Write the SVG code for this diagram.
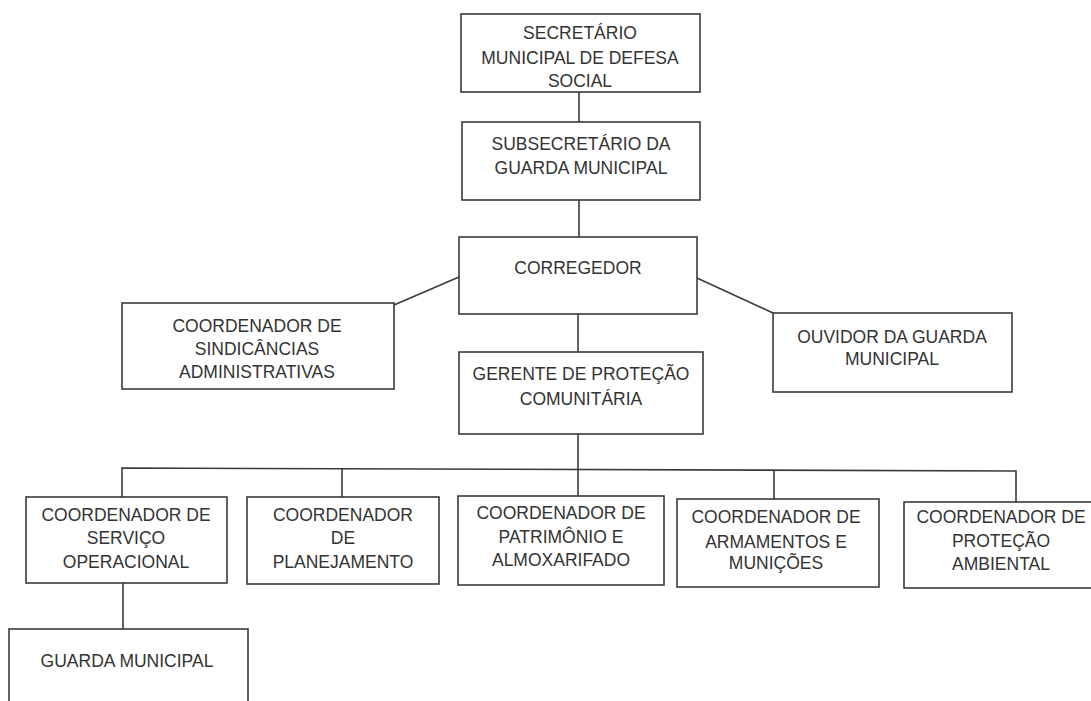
<svg xmlns="http://www.w3.org/2000/svg" width="1091" height="701" viewBox="0 0 1091 701">
<style>
.box{fill:#fff;stroke:#3a3a3a;stroke-width:1.6}
.t{font-family:"Liberation Sans",Arial,sans-serif;font-size:17.5px;fill:#333;text-anchor:middle}
.c{fill:none;stroke:#3a3a3a;stroke-width:1.6}
</style>
<rect width="1091" height="701" fill="#fff"/>
<g id="connectors">
<line class="c" x1="579" y1="92" x2="579" y2="122"/>
<line class="c" x1="579" y1="200" x2="579" y2="237"/>
<line class="c" x1="578" y1="314" x2="578" y2="352"/>
<line class="c" x1="394" y1="305" x2="459" y2="277"/>
<line class="c" x1="697" y1="278" x2="773" y2="313"/>
<line class="c" x1="578" y1="434" x2="578" y2="496"/>
<polyline class="c" points="122,497 122,468 1016,471 1016,502"/>
<line class="c" x1="342" y1="468" x2="342" y2="497"/>
<line class="c" x1="774" y1="470" x2="774" y2="499"/>
<line class="c" x1="123" y1="583" x2="123" y2="629"/>
</g>
<g id="secretario">
<rect class="box" x="461" y="14" width="239" height="78"/>
<text class="t" x="580" y="39">SECRETÁRIO</text>
<text class="t" x="580" y="64">MUNICIPAL DE DEFESA</text>
<text class="t" x="580" y="87">SOCIAL</text>
</g>
<g id="subsecretario">
<rect class="box" x="462" y="122" width="238" height="78"/>
<text class="t" x="581" y="150">SUBSECRETÁRIO DA</text>
<text class="t" x="581" y="174">GUARDA MUNICIPAL</text>
</g>
<g id="corregedor">
<rect class="box" x="459" y="237" width="238" height="77"/>
<text class="t" x="578" y="274">CORREGEDOR</text>
</g>
<g id="sindicancias">
<rect class="box" x="122" y="303" width="272" height="86"/>
<text class="t" x="257" y="332">COORDENADOR DE</text>
<text class="t" x="257" y="355">SINDICÂNCIAS</text>
<text class="t" x="257" y="378">ADMINISTRATIVAS</text>
</g>
<g id="ouvidor">
<rect class="box" x="773" y="313" width="239" height="79"/>
<text class="t" x="892" y="343">OUVIDOR DA GUARDA</text>
<text class="t" x="892" y="365">MUNICIPAL</text>
</g>
<g id="gerente">
<rect class="box" x="459" y="352" width="244" height="82"/>
<text class="t" x="581" y="380">GERENTE DE PROTEÇÃO</text>
<text class="t" x="581" y="405">COMUNITÁRIA</text>
</g>
<g id="servico">
<rect class="box" x="26" y="497" width="201" height="86"/>
<text class="t" x="126" y="521">COORDENADOR DE</text>
<text class="t" x="126" y="544">SERVIÇO</text>
<text class="t" x="126" y="568">OPERACIONAL</text>
</g>
<g id="planejamento">
<rect class="box" x="247" y="497" width="192" height="87"/>
<text class="t" x="343" y="521">COORDENADOR</text>
<text class="t" x="343" y="544">DE</text>
<text class="t" x="343" y="568">PLANEJAMENTO</text>
</g>
<g id="patrimonio">
<rect class="box" x="458" y="496" width="206" height="89"/>
<text class="t" x="561" y="519">COORDENADOR DE</text>
<text class="t" x="561" y="543">PATRIMÔNIO E</text>
<text class="t" x="561" y="566">ALMOXARIFADO</text>
</g>
<g id="armamentos">
<rect class="box" x="677" y="499" width="202" height="88"/>
<text class="t" x="776" y="523">COORDENADOR DE</text>
<text class="t" x="776" y="548">ARMAMENTOS E</text>
<text class="t" x="776" y="569">MUNIÇÕES</text>
</g>
<g id="ambiental">
<rect class="box" x="904" y="502" width="200" height="86"/>
<text class="t" x="1001" y="523">COORDENADOR DE</text>
<text class="t" x="1001" y="547">PROTEÇÃO</text>
<text class="t" x="1001" y="570">AMBIENTAL</text>
</g>
<g id="guarda">
<rect class="box" x="9" y="629" width="239" height="90"/>
<text class="t" x="127" y="667">GUARDA MUNICIPAL</text>
</g>
</svg>
